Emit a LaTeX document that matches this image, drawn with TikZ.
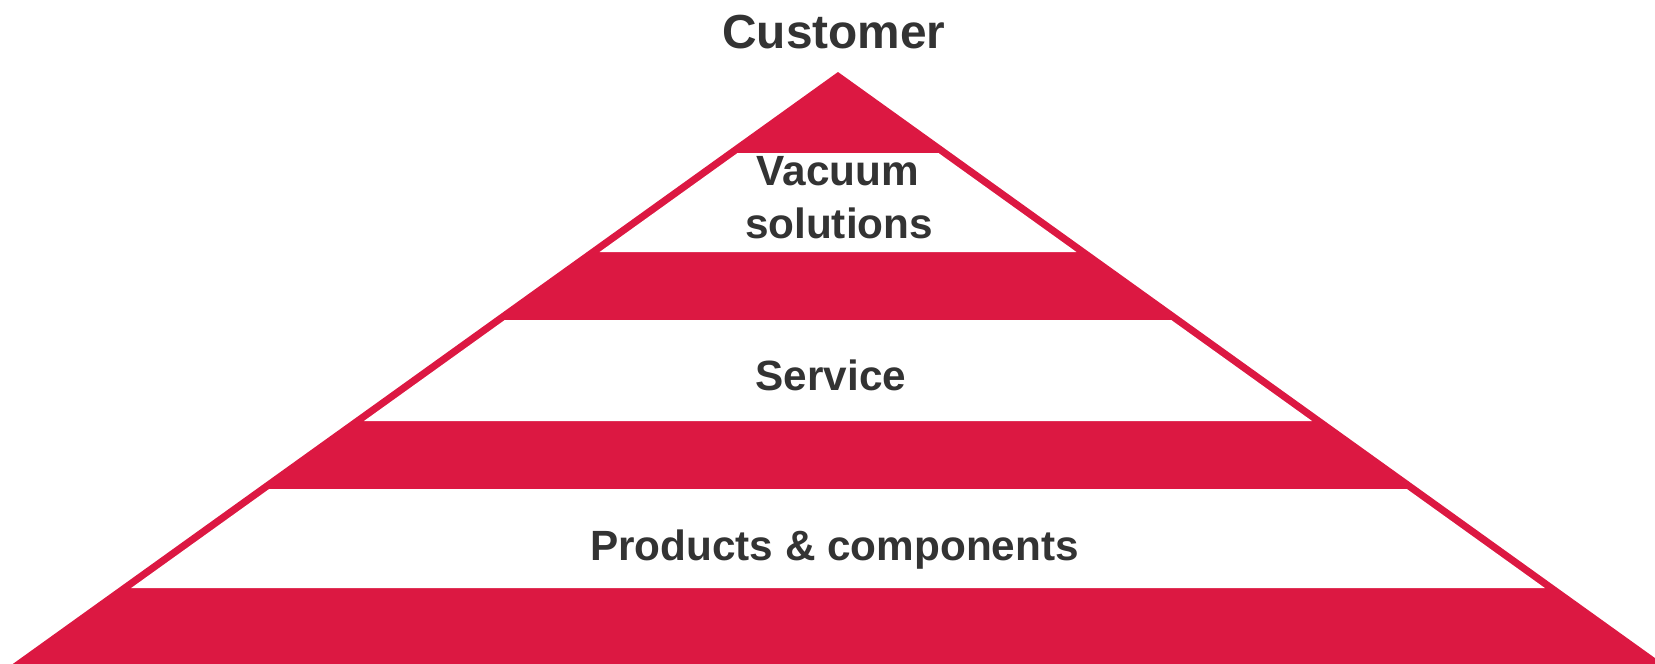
\documentclass[tikz,border=0pt]{standalone}
\usepackage{fontspec}
\setmainfont{Liberation Sans}
\definecolor{pyrred}{HTML}{DC1842}
\definecolor{txtgray}{HTML}{333333}
\begin{document}
\begin{tikzpicture}[x=1pt,y=-1pt,
  lbl/.style={font=\fontsize{42.3}{50}\selectfont\bfseries, text=txtgray, anchor=base, inner sep=0pt},
  title/.style={font=\fontsize{47.8}{56}\selectfont\bfseries, text=txtgray, anchor=base, inner sep=0pt},
  band/.style={fill=white}]
\useasboundingbox (0,0) rectangle (1655,664);
% red pyramid
\begin{scope}
\clip (0,0) rectangle (1655,664);
\fill[pyrred] (838,72) -- ({838-1.394*592},664) -- ({838+1.394*592},664) -- cycle;
\end{scope}
% white bands
\foreach \t/\b in {153/252,320/421,489/588}{
  \pgfmathsetmacro{\wt}{1.394*(\t-72)-12.5}
  \pgfmathsetmacro{\wb}{1.394*(\b-72)-12.5}
  \fill[band] ({838-\wt},\t) -- ({838+\wt},\t) -- ({838+\wb},\b) -- ({838-\wb},\b) -- cycle;
}
% labels
\node[title] (customer) at (834,48) {Customer};
\node[lbl] (vac1) at (838,185) {Vacuum};
\node[lbl] (vac2) at (839,238) {solutions};
\node[lbl] (service) at (831,390) {Service};
\node[lbl] (products) at (834.5,560) {Products \& components};
\end{tikzpicture}
\end{document}
